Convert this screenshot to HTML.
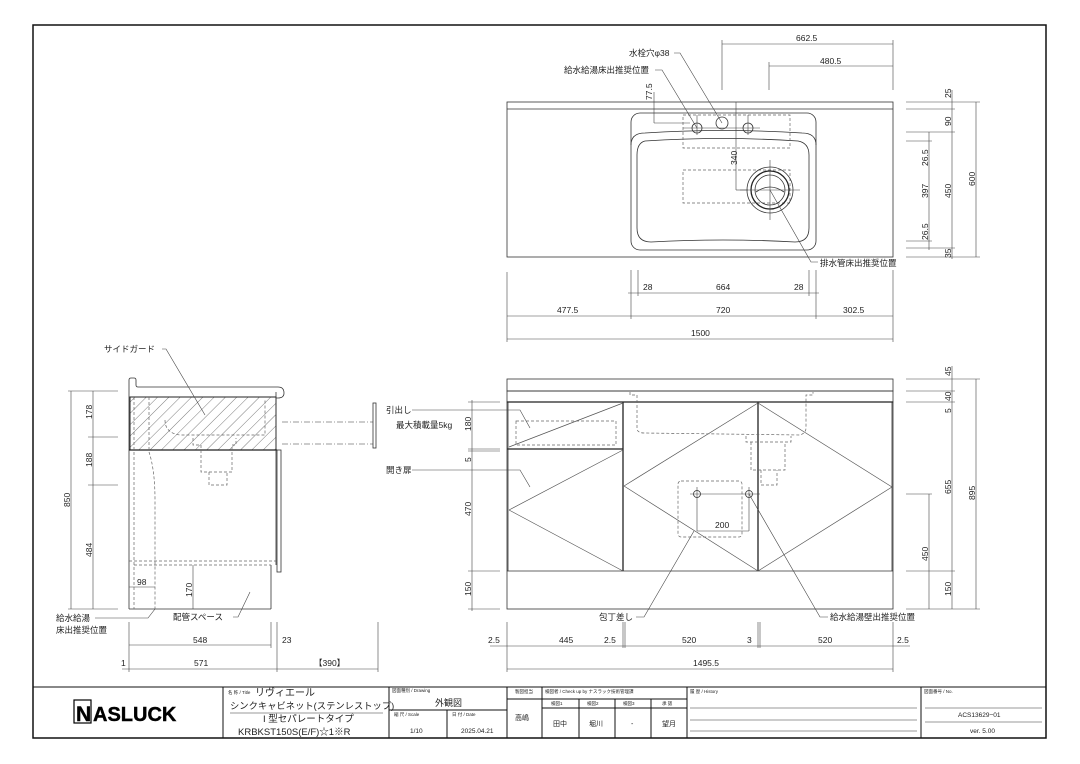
<!DOCTYPE html>
<html><head><meta charset="utf-8"><style>
html,body{margin:0;padding:0;background:#fff}
svg{display:block}
text{font-family:"Liberation Sans","Noto Sans CJK JP",sans-serif;fill:#222}
.l{stroke:#333;stroke-width:0.8;fill:none}
.t{stroke:#222;stroke-width:1.3;fill:none}
.d{stroke:#666;stroke-width:0.7;fill:none;stroke-dasharray:3 2}
.dd{stroke:#777;stroke-width:0.7;fill:none;stroke-dasharray:6 2 1 2}
.m{stroke:#444;stroke-width:0.6;fill:none}
.s{font-size:8.5px}
.j{font-size:8.5px}
</style></head><body>
<svg width="1080" height="764" viewBox="0 0 1080 764" xmlns="http://www.w3.org/2000/svg">
<defs>
<pattern id="h" width="8" height="8" patternUnits="userSpaceOnUse" patternTransform="rotate(45)">
<line x1="0" y1="0" x2="0" y2="8" stroke="#444" stroke-width="0.7"/>
</pattern>
</defs>
<rect x="33" y="25" width="1013" height="713" fill="none" stroke="#111" stroke-width="1.5"/>

<!-- ===== TOP PLAN VIEW ===== -->
<rect x="507" y="102" width="386" height="155" class="l"/>
<line x1="507" y1="109" x2="893" y2="109" class="l"/>
<rect x="631" y="113" width="185" height="137" rx="9" class="l"/>
<path d="M631 145 Q631 133 645 133 Q723 128 802 133 Q816 133 816 145" class="l"/>
<path d="M645 141 Q723 136 798 141 Q809 143 809 155 L809 228 Q809 242 795 242 Q723 238 651 242 Q637 242 637 228 L637 155 Q637 143 645 141Z" class="l"/>
<rect x="683" y="115" width="107" height="33" class="d"/>
<rect x="683" y="170" width="107" height="33" class="d"/>
<circle cx="770" cy="190" r="23" class="l"/>
<circle cx="770" cy="190" r="19" class="t"/>
<circle cx="770" cy="190" r="15" class="l"/>
<path d="M756 192 Q770 182 784 192" class="l"/>
<line x1="740" y1="190" x2="800" y2="190" class="m"/>
<line x1="770" y1="160" x2="770" y2="220" class="m"/>
<circle cx="697" cy="128" r="5" class="l"/>
<circle cx="722" cy="123" r="6" class="l"/>
<circle cx="748" cy="128" r="5" class="l"/>
<line x1="683" y1="128" x2="760" y2="128" class="m"/>
<line x1="697" y1="115" x2="697" y2="135" class="m"/>
<line x1="748" y1="115" x2="748" y2="135" class="m"/>
<line x1="654" y1="92" x2="654" y2="123" class="m"/><line x1="654" y1="123" x2="690" y2="123" class="m"/>
<text class="s" transform="translate(652,100) rotate(-90)">77.5</text>
<line x1="736" y1="102" x2="736" y2="190" class="m"/><line x1="736" y1="190" x2="748" y2="190" class="m"/>
<text class="s" transform="translate(737,165) rotate(-90)">340</text>
<text class="j" x="629" y="56">水栓穴φ38</text>
<polyline points="674,53 680,53 722,123" class="m"/>
<text class="j" x="564" y="73">給水給湯床出推奨位置</text>
<polyline points="655,70 662,70 697,128" class="m"/>
<text class="j" x="820" y="266">排水管床出推奨位置</text>
<polyline points="770,190 811,262 818,262" class="m"/>
<line x1="722" y1="44" x2="893" y2="44" class="m"/><text class="s" x="796" y="41">662.5</text>
<line x1="769" y1="66" x2="893" y2="66" class="m"/><text class="s" x="820" y="64">480.5</text>
<line x1="722" y1="40" x2="722" y2="90" class="m"/><line x1="769" y1="62" x2="769" y2="90" class="m"/><line x1="893" y1="40" x2="893" y2="90" class="m"/>
<g class="m">
<line x1="906" y1="102" x2="980" y2="102"/><line x1="906" y1="109" x2="955" y2="109"/>
<line x1="906" y1="132" x2="955" y2="132"/><line x1="906" y1="141" x2="932" y2="141"/>
<line x1="906" y1="241" x2="932" y2="241"/><line x1="906" y1="248" x2="955" y2="248"/>
<line x1="906" y1="257" x2="980" y2="257"/>
<line x1="929" y1="132" x2="929" y2="250"/><line x1="952" y1="90" x2="952" y2="259"/><line x1="976" y1="102" x2="976" y2="257"/>
</g>
<g class="s">
<text transform="translate(951,98) rotate(-90)">25</text>
<text transform="translate(951,126) rotate(-90)">90</text>
<text transform="translate(928,166) rotate(-90)">26.5</text>
<text transform="translate(928,198) rotate(-90)">397</text>
<text transform="translate(928,240) rotate(-90)">26.5</text>
<text transform="translate(951,198) rotate(-90)">450</text>
<text transform="translate(951,258) rotate(-90)">35</text>
<text transform="translate(975,186) rotate(-90)">600</text>
</g>
<g class="m">
<line x1="507" y1="272" x2="507" y2="342"/><line x1="631" y1="270" x2="631" y2="319"/><line x1="638" y1="270" x2="638" y2="296"/>
<line x1="809" y1="270" x2="809" y2="296"/><line x1="816" y1="270" x2="816" y2="319"/><line x1="893" y1="270" x2="893" y2="342"/>
<line x1="628" y1="293" x2="819" y2="293"/>
<line x1="507" y1="316" x2="893" y2="316"/>
<line x1="507" y1="339" x2="893" y2="339"/>
</g>
<g class="s">
<text x="643" y="290">28</text><text x="716" y="290">664</text><text x="794" y="290">28</text>
<text x="557" y="313">477.5</text><text x="716" y="313">720</text><text x="843" y="313">302.5</text>
<text x="691" y="336">1500</text>
</g>

<!-- ===== SIDE VIEW ===== -->
<path d="M129 391 L129 380 Q129 378 131 378 L134 378 Q136 378 136 380 L136 385 Q136 387 138 387 L278 387 Q284 387 284 393 Q284 398 278 398 L276 398" class="l"/>
<line x1="129" y1="391" x2="129" y2="609" class="l"/>
<rect x="130" y="397" width="146" height="53" fill="url(#h)" stroke="#222" stroke-width="1"/>
<line x1="129" y1="450" x2="277" y2="450" class="t"/>
<line x1="276" y1="392" x2="276" y2="565" class="l"/>
<rect x="277" y="450" width="4" height="122" class="l"/>
<line x1="271" y1="565" x2="271" y2="609" class="l"/>
<line x1="129" y1="609" x2="271" y2="609" class="l"/>
<line x1="129" y1="561" x2="276" y2="561" class="d"/>
<line x1="134" y1="565" x2="271" y2="565" class="d"/>
<line x1="134" y1="397" x2="134" y2="609" class="d"/>
<path d="M149 397 L149 452 Q155 470 155 500 L155 609" class="d"/>
<path d="M165 420 Q165 433 180 435 L265 435 L265 400" class="d"/>
<path d="M193 438 L193 445 L201 445 L201 472 L232 472 L232 445 L236 445 L236 438" class="d"/>
<path d="M209 472 L209 485 L227 485 L227 472" class="d"/>
<line x1="282" y1="422" x2="373" y2="422" class="dd"/>
<line x1="282" y1="444" x2="373" y2="444" class="dd"/>
<rect x="373" y="403" width="3" height="45" class="l"/>
<text class="j" x="104" y="352">サイドガード</text>
<polyline points="162,349 166,349 205,415" class="m"/>
<g class="m">
<line x1="68" y1="391" x2="118" y2="391"/><line x1="88" y1="437" x2="118" y2="437"/><line x1="88" y1="485" x2="118" y2="485"/><line x1="68" y1="609" x2="118" y2="609"/>
<line x1="71" y1="391" x2="71" y2="609"/><line x1="93" y1="391" x2="93" y2="609"/>
<line x1="129" y1="587" x2="155" y2="587"/>
<line x1="193" y1="565" x2="193" y2="609"/>
<line x1="129" y1="622" x2="129" y2="672"/><line x1="271" y1="622" x2="271" y2="648"/><line x1="277" y1="622" x2="277" y2="672"/><line x1="378" y1="622" x2="378" y2="672"/>
<line x1="129" y1="645" x2="271" y2="645"/><line x1="122" y1="669" x2="378" y2="669"/>
</g>
<g class="s">
<text transform="translate(92,419) rotate(-90)">178</text>
<text transform="translate(92,467) rotate(-90)">188</text>
<text transform="translate(92,557) rotate(-90)">484</text>
<text transform="translate(70,507) rotate(-90)">850</text>
<text x="137" y="585">98</text>
<text transform="translate(192,597) rotate(-90)">170</text>
<text x="193" y="643">548</text><text x="282" y="643">23</text>
<text x="194" y="666">571</text><text x="121" y="666">1</text><text x="314" y="666">【390】</text>
</g>
<text class="j" x="56" y="621">給水給湯</text>
<text class="j" x="56" y="633">床出推奨位置</text>
<polyline points="95,618 148,618 155,609" class="m"/>
<text class="j" x="173" y="620">配管スペース</text>
<polyline points="233,617 238,617 250,592" class="m"/>

<!-- ===== FRONT VIEW ===== -->
<rect x="507" y="379" width="386" height="12" class="l"/>
<rect x="507" y="391" width="386" height="11" class="l"/>
<rect x="507" y="402" width="386" height="207" class="l"/>
<line x1="507" y1="402" x2="893" y2="402" class="t"/>
<line x1="507" y1="571" x2="893" y2="571" class="l"/>
<line x1="623" y1="402" x2="623" y2="571" class="t"/>
<line x1="758" y1="402" x2="758" y2="571" class="t"/>
<line x1="507" y1="449" x2="623" y2="449" class="t"/>
<line x1="508" y1="402" x2="508" y2="571" class="l"/>
<line x1="892" y1="402" x2="892" y2="571" class="l"/>
<rect x="516" y="421" width="100" height="24" class="d"/>
<g stroke="#555" stroke-width="0.7" fill="none">
<line x1="509" y1="447" x2="623" y2="403"/>
<line x1="509" y1="510" x2="623" y2="450"/><line x1="509" y1="510" x2="623" y2="571"/>
<line x1="624" y1="486" x2="758" y2="403"/><line x1="624" y1="486" x2="758" y2="571"/>
<line x1="758" y1="403" x2="892" y2="487"/><line x1="758" y1="571" x2="892" y2="487"/>
</g>
<path d="M630 392 L630 395 L637 395 L637 428 Q637 433 644 433 L800 435 Q806 433 806 428 L806 395 L813 395 L813 392" class="d"/>
<path d="M746 436 L746 442 L791 442 L791 436" class="d"/>
<path d="M751 442 L751 470 L785 470 L785 442" class="d"/>
<path d="M761 470 L761 485 L777 485 L777 470" class="d"/>
<rect x="678" y="481" width="64" height="56" rx="3" class="d"/>
<circle cx="697" cy="494" r="3.5" class="l"/>
<circle cx="749" cy="494" r="3.5" class="l"/>
<line x1="690" y1="494" x2="760" y2="494" class="m"/>
<line x1="697" y1="487" x2="697" y2="531" class="m"/><line x1="749" y1="487" x2="749" y2="531" class="m"/>
<line x1="697" y1="531" x2="749" y2="531" class="m"/>
<text class="s" x="715" y="528">200</text>
<text class="j" x="386" y="413">引出し</text>
<polyline points="412,410 520,410 530,428" class="m"/>
<text class="j" x="396" y="428">最大積載量5kg</text>
<text class="j" x="386" y="473">開き扉</text>
<polyline points="412,470 520,470 530,487" class="m"/>
<text class="j" x="599" y="620">包丁差し</text>
<polyline points="636,617 644,617 694,531" class="m"/>
<text class="j" x="830" y="620">給水給湯壁出推奨位置</text>
<polyline points="828,617 820,617 749,494" class="m"/>
<g class="m">
<line x1="468" y1="402" x2="500" y2="402"/><line x1="468" y1="449" x2="500" y2="449"/><line x1="468" y1="451" x2="500" y2="451"/>
<line x1="468" y1="571" x2="500" y2="571"/><line x1="468" y1="609" x2="500" y2="609"/>
<line x1="472" y1="400" x2="472" y2="611"/>
<line x1="906" y1="379" x2="980" y2="379"/><line x1="906" y1="391" x2="955" y2="391"/><line x1="906" y1="402" x2="955" y2="402"/>
<line x1="906" y1="494" x2="932" y2="494"/><line x1="906" y1="571" x2="955" y2="571"/><line x1="906" y1="609" x2="980" y2="609"/>
<line x1="929" y1="494" x2="929" y2="609"/><line x1="952" y1="366" x2="952" y2="609"/><line x1="976" y1="379" x2="976" y2="609"/>
<line x1="507" y1="622" x2="507" y2="672"/><line x1="623" y1="622" x2="623" y2="648"/><line x1="625" y1="622" x2="625" y2="648"/>
<line x1="758" y1="622" x2="758" y2="648"/><line x1="760" y1="622" x2="760" y2="648"/><line x1="893" y1="622" x2="893" y2="672"/>
<line x1="490" y1="646" x2="910" y2="646"/>
<line x1="507" y1="669" x2="893" y2="669"/>
</g>
<g class="s">
<text transform="translate(471,431) rotate(-90)">180</text>
<text transform="translate(471,462) rotate(-90)">5</text>
<text transform="translate(471,516) rotate(-90)">470</text>
<text transform="translate(471,596) rotate(-90)">150</text>
<text transform="translate(951,376) rotate(-90)">45</text>
<text transform="translate(951,401) rotate(-90)">40</text>
<text transform="translate(951,413) rotate(-90)">5</text>
<text transform="translate(951,494) rotate(-90)">655</text>
<text transform="translate(928,561) rotate(-90)">450</text>
<text transform="translate(951,596) rotate(-90)">150</text>
<text transform="translate(975,500) rotate(-90)">895</text>
<text x="488" y="643">2.5</text><text x="559" y="643">445</text><text x="604" y="643">2.5</text>
<text x="682" y="643">520</text><text x="747" y="643">3</text><text x="818" y="643">520</text><text x="897" y="643">2.5</text>
<text x="693" y="666">1495.5</text>
</g>

<!-- ===== TITLE BLOCK ===== -->
<g stroke="#111" stroke-width="1" fill="none">
<line x1="33" y1="687" x2="1046" y2="687"/>
<line x1="223" y1="687" x2="223" y2="738"/><line x1="389" y1="687" x2="389" y2="738"/>
<line x1="507" y1="687" x2="507" y2="738"/><line x1="542" y1="687" x2="542" y2="738"/>
<line x1="687" y1="687" x2="687" y2="738"/><line x1="921" y1="687" x2="921" y2="738"/>
<line x1="389" y1="710" x2="507" y2="710"/><line x1="447" y1="710" x2="447" y2="738"/>
<line x1="507" y1="699" x2="542" y2="699"/>
<line x1="542" y1="699" x2="687" y2="699"/><line x1="542" y1="708" x2="687" y2="708"/>
<line x1="579" y1="699" x2="579" y2="738"/><line x1="615" y1="699" x2="615" y2="738"/><line x1="651" y1="699" x2="651" y2="738"/>
</g>
<g stroke="#333" stroke-width="0.6">
<line x1="230" y1="713" x2="383" y2="713"/>
<line x1="690" y1="708" x2="917" y2="708"/><line x1="690" y1="720" x2="917" y2="720"/><line x1="690" y1="731" x2="917" y2="731"/>
<line x1="925" y1="708" x2="1042" y2="708"/><line x1="925" y1="722" x2="1042" y2="722"/>
</g>
<rect x="74" y="700" width="17" height="23" fill="none" stroke="#000" stroke-width="1.2"/>
<text x="76" y="721" style="font-size:21px;font-weight:bold;fill:#000;stroke:#000;stroke-width:0.4">N</text>
<text x="93" y="721" style="font-size:20px;font-weight:bold;fill:#000;stroke:#000;stroke-width:0.4">ASLUCK</text>
<g style="font-size:4.5px;fill:#333">
<text x="228" y="694">名 称 / Title</text>
<text x="392" y="692">図面種別 / Drawing</text>
<text x="394" y="716">縮 尺 / Scale</text>
<text x="452" y="716">日 付 / Date</text>
<text x="515" y="693">製図担当</text>
<text x="545" y="693">検図者 / Check up by ナスラック技術管理課</text>
<text x="551" y="705">検図1</text><text x="587" y="705">検図2</text><text x="623" y="705">検図3</text><text x="662" y="705">承 認</text>
<text x="690" y="693">履 歴 / History</text>
<text x="924" y="693">図面番号 / No.</text>
</g>
<text x="255" y="696" style="font-size:10px">リヴィエール</text>
<text x="230" y="709" style="font-size:9.3px">シンクキャビネット(ステンレストップ)</text>
<text x="263" y="722" style="font-size:9.5px">I 型セパレートタイプ</text>
<text x="238" y="735" style="font-size:9.5px">KRBKST150S(E/F)☆1※R</text>
<text x="435" y="706" style="font-size:9px">外観図</text>
<text x="410" y="733" style="font-size:6.5px">1/10</text>
<text x="461" y="733" style="font-size:6.5px">2025.04.21</text>
<text x="515" y="720" style="font-size:7px">高嶋</text>
<text x="553" y="726" style="font-size:7px">田中</text>
<text x="589" y="726" style="font-size:7px">堀川</text>
<text x="631" y="726" style="font-size:7px">-</text>
<text x="662" y="726" style="font-size:7px">望月</text>
<text x="958" y="717" style="font-size:6.5px">ACS13629−01</text>
<text x="970" y="733" style="font-size:6.5px">ver. 5.00</text>
</svg>
</body></html>
